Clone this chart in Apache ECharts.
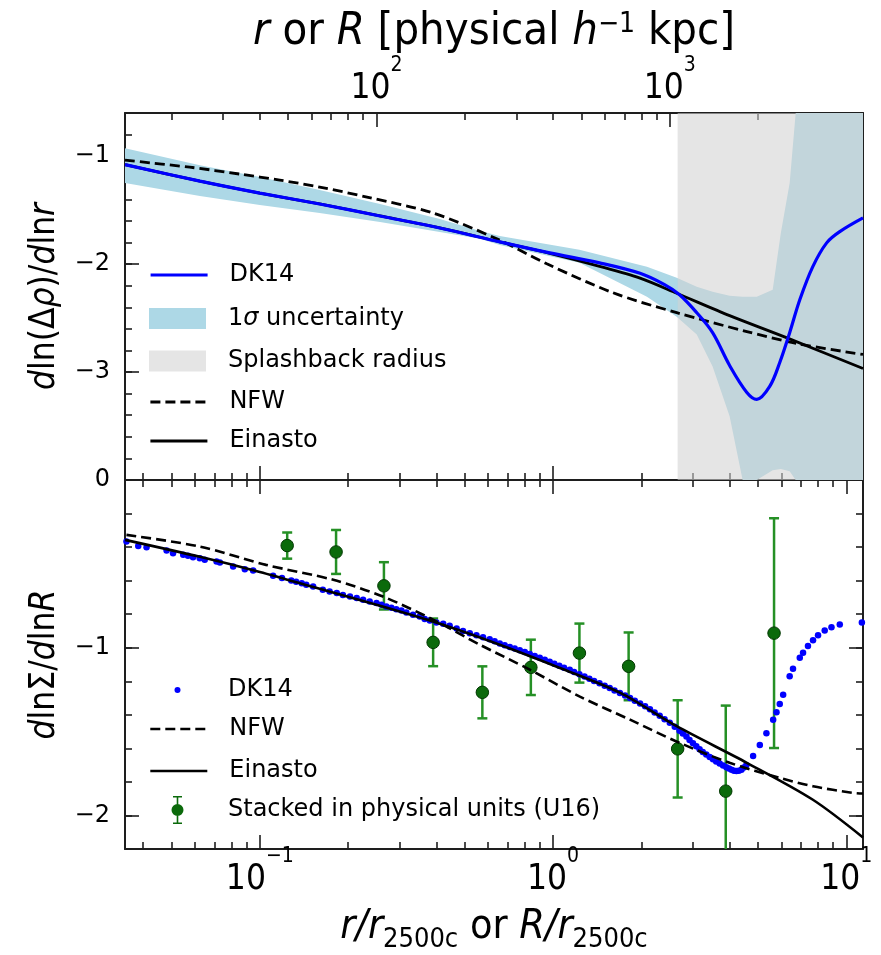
<!DOCTYPE html>
<html>
<head>
<meta charset="utf-8">
<title>Logarithmic slope profiles</title>
<script src="https://cdn.jsdelivr.net/npm/echarts@6.0.0/dist/echarts.min.js"></script>
<style>
  html, body { margin: 0; padding: 0; background: #fff; }
  #chart { width: 881px; height: 955px; }
</style>
</head>
<body>
<div id="chart"></div>
<script>
// axis ranges (x is r/r2500c, top axis is the same radius in h^-1 kpc)
const xMin = 0.0347, xMax = 11.4;
const r2500c = 400;
const topYMin = -4, topYMax = -0.6;
const botYMin = -2.2, botYMax = 0;

// ticks
const xMajor = [0.1, 1, 10];
const xMinor = [0.04, 0.05, 0.06, 0.07, 0.08, 0.09, 0.2, 0.3, 0.4, 0.5, 0.6, 0.7, 0.8, 0.9, 2, 3, 4, 5, 6, 7, 8, 9];
const kpcMajor = [100, 1000];
const kpcMinor = [20, 30, 40, 50, 60, 70, 80, 90, 200, 300, 400, 500, 600, 700, 800, 900, 2000, 3000, 4000];
const topYTicks = [-3, -2, -1];
const botYTicks = [-2, -1];
const botYLabels = [-2, -1, 0];

// top panel: d ln(Δρ) / d ln r
const dk14TopX = [0.0347, 0.0625, 0.1, 0.160, 0.257, 0.411, 0.658, 0.974, 1.44, 1.98, 2.40, 2.70, 3.09, 3.50, 4.00, 4.58, 4.95, 5.48, 5.93, 6.41, 6.94, 7.68, 8.57, 9.50, 11.4];
const dk14TopY = [-1.078, -1.231, -1.342, -1.443, -1.554, -1.665, -1.794, -1.896, -1.988, -2.085, -2.190, -2.284, -2.450, -2.635, -2.939, -3.189, -3.253, -3.133, -2.911, -2.635, -2.330, -2.025, -1.803, -1.699, -1.572];
const einTopX = [0.0347, 0.0625, 0.1, 0.160, 0.257, 0.411, 0.658, 0.974, 1.44, 1.98, 2.64, 4.00, 6.25, 11.4];
const einTopY = [-1.078, -1.231, -1.342, -1.443, -1.554, -1.665, -1.794, -1.900, -2.020, -2.130, -2.270, -2.477, -2.681, -2.967];
const nfwTopX = [0.0347, 0.0577, 0.0855, 0.117, 0.160, 0.232, 0.389, 0.643, 0.952, 1.60, 2.64, 4.58, 6.78, 11.4];
const nfwTopY = [-1.037, -1.102, -1.166, -1.222, -1.286, -1.379, -1.526, -1.766, -1.997, -2.265, -2.450, -2.625, -2.736, -2.837];
const bandX = [0.0347, 0.0625, 0.1, 0.160, 0.257, 0.411, 0.563, 0.658, 1.23, 2.09, 2.64, 3.09, 3.50, 4.00, 4.43, 4.95, 5.61, 5.98, 6.41, 6.72, 6.94, 11.4];
const bandHi = [-0.926, -1.083, -1.194, -1.314, -1.443, -1.582, -1.693, -1.739, -1.868, -2.025, -2.127, -2.210, -2.256, -2.293, -2.302, -2.302, -2.237, -1.711, -1.249, -0.6, -0.6, -0.6];
const bandLo = [-1.249, -1.369, -1.452, -1.526, -1.609, -1.702, -1.766, -1.822, -1.988, -2.302, -2.487, -2.653, -2.948, -3.410, -4.0, -4.0, -3.909, -3.899, -3.918, -4.0, -4.0, -4.0];
const splashRange = [2.66, 20];

// bottom panel: d ln Σ / d ln R
const dotX = [0.0351, 0.0385, 0.0411, 0.0481, 0.0506, 0.0548, 0.0569, 0.0592, 0.0624, 0.0649, 0.0712, 0.0731, 0.0811, 0.0889, 0.0949, 0.111, 0.119, 0.128, 0.133, 0.139, 0.144, 0.152, 0.164, 0.173, 0.183, 0.192, 0.203, 0.214, 0.225, 0.237, 0.250, 0.260, 0.270, 0.281, 0.292, 0.304, 0.316, 0.333, 0.351, 0.365, 0.380, 0.400, 0.422, 0.444, 0.469, 0.493, 0.520, 0.548, 0.577,
  0.608, 0.632, 0.658, 0.684, 0.712, 0.740, 0.770, 0.801, 0.833, 0.866, 0.901, 0.937, 0.974, 1.01, 1.05, 1.09, 1.14, 1.18, 1.23, 1.28, 1.33, 1.38, 1.44, 1.50, 1.56, 1.62, 1.69, 1.76, 1.83, 1.90, 1.98, 2.06, 2.14, 2.22, 2.31, 2.40, 2.50, 2.60, 2.70, 2.77, 2.85, 2.92, 3.00, 3.08, 3.16, 3.24, 3.33, 3.42, 3.51, 3.60, 3.70, 3.80, 3.90, 3.98, 4.06, 4.14, 4.22, 4.30, 4.39, 4.47, 4.56,
  4.81, 5.07, 5.34, 5.63, 5.78, 5.93, 6.09, 6.41, 6.58, 6.94, 7.12, 7.40, 7.70, 8.01, 8.44, 8.90, 9.50, 11.3];
const dotY = [-0.367, -0.393, -0.401, -0.421, -0.436, -0.446, -0.452, -0.460, -0.466, -0.476, -0.486, -0.492, -0.516, -0.532, -0.540, -0.571, -0.585, -0.599, -0.607, -0.615, -0.625, -0.635, -0.655, -0.665, -0.674, -0.685, -0.695, -0.704, -0.714, -0.724, -0.734, -0.744, -0.754, -0.762, -0.770, -0.778, -0.790, -0.804, -0.814, -0.829, -0.838, -0.849, -0.857, -0.869, -0.885, -0.900, -0.913, -0.925, -0.937,
  -0.950, -0.962, -0.975, -0.985, -0.995, -1.005, -1.015, -1.026, -1.038, -1.049, -1.060, -1.071, -1.083, -1.095, -1.108, -1.120, -1.132, -1.145, -1.158, -1.171, -1.185, -1.198, -1.212, -1.226, -1.240, -1.255, -1.270, -1.285, -1.300, -1.316, -1.332, -1.349, -1.367, -1.386, -1.405, -1.426, -1.448, -1.471, -1.495, -1.512, -1.530, -1.550, -1.570, -1.588, -1.605, -1.621, -1.637, -1.651, -1.665, -1.678, -1.690, -1.702, -1.712, -1.720, -1.728, -1.733, -1.735, -1.733, -1.727, -1.714, -1.700,
  -1.645, -1.580, -1.510, -1.430, -1.385, -1.335, -1.280, -1.170, -1.125, -1.060, -1.030, -0.990, -0.955, -0.925, -0.897, -0.878, -0.862, -0.849];
const einBotX = [0.0347, 0.0625, 0.1, 0.160, 0.257, 0.411, 0.658, 1.05, 1.69, 2.64, 4.58, 7.67, 11.4];
const einBotY = [-0.357, -0.458, -0.548, -0.649, -0.750, -0.857, -0.982, -1.119, -1.268, -1.468, -1.686, -1.905, -2.131];
const nfwBotX = [0.0351, 0.0624, 0.105, 0.178, 0.263, 0.390, 0.563, 0.833, 1.23, 1.83, 2.70, 4.00, 5.93, 7.70, 10.5, 11.4];
const nfwBotY = [-0.327, -0.397, -0.506, -0.595, -0.695, -0.833, -0.982, -1.131, -1.290, -1.429, -1.567, -1.686, -1.776, -1.826, -1.865, -1.869];
const u16X = [0.124, 0.182, 0.265, 0.390, 0.574, 0.840, 1.23, 1.81, 2.66, 3.88, 5.67];
const u16Y = [-0.391, -0.429, -0.631, -0.968, -1.266, -1.117, -1.032, -1.111, -1.603, -1.855, -0.913];
const u16Err = [0.078, 0.131, 0.141, 0.142, 0.155, 0.165, 0.176, 0.202, 0.290, 0.510, 0.685];

const frame = '#1e1e1e';
const bandColor = '#add8e6';
const splashColor = 'rgba(210,210,210,0.58)';
const blue = '#0000ff';
const green = '#0b6a0b';
const barGreen = '#259025';
const condensed = "'DejaVu Sans Condensed', 'Liberation Sans Narrow', 'DejaVu Sans', sans-serif";
const sans = "'DejaVu Sans', sans-serif";

const pairs = (xs, ys) => xs.map((x, i) => [x, ys[i]]);
const minus = v => (v < 0 ? '\u2212' : '') + Math.abs(v);

const powRich = {
  b: { fontFamily: condensed, fontSize: 35, lineHeight: 36, padding: [16, 0, 0, 0], color: '#000' },
  e: { fontFamily: condensed, fontSize: 21, lineHeight: 21, padding: [0, 0, 31, 0], color: '#000' }
};
const powLabel = v => '{b|10}{e|' + minus(Math.round(Math.log10(v))) + '}';

const spine = { show: true, onZero: false, lineStyle: { color: frame, width: 2 } };

function logAxis(grid, pos, min, max, ticks, len, extra) {
  return Object.assign({
    type: 'log', logBase: 10, gridIndex: grid, position: pos, min: min, max: max,
    axisLine: { show: false, onZero: false },
    axisTick: { show: true, inside: true, length: len, customValues: ticks, lineStyle: { color: frame, width: 1.6 } },
    axisLabel: { show: false },
    splitLine: { show: false },
    nameMoveOverlap: false
  }, extra);
}

function valAxis(grid, pos, min, max, extra) {
  return Object.assign({
    type: 'value', gridIndex: grid, position: pos, min: min, max: max,
    axisLine: { show: false, onZero: false },
    axisTick: { show: true, inside: true, length: 7, lineStyle: { color: frame, width: 1.6 } },
    axisLabel: { show: false },
    splitLine: { show: false },
    nameMoveOverlap: false
  }, extra);
}

function majorY(grid, pos, min, max, ticks, labels, extra) {
  const ax = valAxis(grid, pos, min, max, extra);
  ax.axisLine = spine;
  ax.axisTick = { show: true, inside: true, length: 14, customValues: ticks, lineStyle: { color: frame, width: 1.6 } };
  if (labels) {
    ax.axisLabel = { show: true, customValues: labels, formatter: minus, margin: 15,
      fontFamily: sans, fontSize: 24, color: '#000' };
  }
  return ax;
}

const yNameRich = {
  i: { fontFamily: condensed, fontStyle: 'italic', fontSize: 35, lineHeight: 40, color: '#000' },
  n: { fontFamily: condensed, fontSize: 35, lineHeight: 40, color: '#000' }
};

const xAxes = [
  // top panel, bottom edge
  logAxis(0, 'bottom', xMin, xMax, xMajor, 14, { axisLine: spine }),
  logAxis(0, 'bottom', xMin, xMax, xMinor, 7),
  // top panel, top edge in kpc
  logAxis(0, 'top', xMin * r2500c, xMax * r2500c, kpcMajor, 14, {
    axisLine: spine,
    axisLabel: { show: true, customValues: kpcMajor, formatter: powLabel, margin: 14, rich: powRich },
    name: '{i|r}{n| or }{i|R}{n| [physical }{i|h}{s|\u22121}{n| kpc]}',
    nameLocation: 'middle', nameGap: 57,
    nameTextStyle: { rich: {
      i: { fontFamily: condensed, fontStyle: 'italic', fontSize: 45, lineHeight: 48, color: '#000' },
      n: { fontFamily: condensed, fontSize: 45, lineHeight: 48, color: '#000' },
      s: { fontFamily: condensed, fontSize: 28, lineHeight: 28, padding: [3, 0, 17, 0], color: '#000' }
    } }
  }),
  logAxis(0, 'top', xMin * r2500c, xMax * r2500c, kpcMinor, 7),
  // bottom panel, bottom edge
  logAxis(1, 'bottom', xMin, xMax, xMajor, 14, {
    axisLine: spine,
    axisLabel: { show: true, customValues: xMajor, formatter: powLabel, margin: 5, rich: powRich },
    name: '{i|r/r}{s|2500c}{n| or }{i|R/r}{s|2500c}',
    nameLocation: 'middle', nameGap: 57,
    nameTextStyle: { rich: {
      i: { fontFamily: condensed, fontStyle: 'italic', fontSize: 41, lineHeight: 42, color: '#000' },
      n: { fontFamily: condensed, fontSize: 41, lineHeight: 42, color: '#000' },
      s: { fontFamily: condensed, fontSize: 27, lineHeight: 27, padding: [25, 0, 0, 0], color: '#000' }
    } }
  }),
  logAxis(1, 'bottom', xMin, xMax, xMinor, 7),
  // bottom panel, top edge
  logAxis(1, 'top', xMin, xMax, xMajor, 14, { axisLine: spine }),
  logAxis(1, 'top', xMin, xMax, xMinor, 7)
];

const yAxes = [
  majorY(0, 'left', topYMin, topYMax, topYTicks, topYTicks, {
    name: '{i|d}{n|ln(\u0394}{i|\u03c1}{n|)/}{i|d}{n|ln}{i|r}',
    nameLocation: 'middle', nameRotate: 90, nameGap: 60,
    nameTextStyle: { rich: yNameRich }
  }),
  valAxis(0, 'left', topYMin, topYMax, { interval: 0.2 }),
  majorY(0, 'right', topYMin, topYMax, topYTicks, null),
  valAxis(0, 'right', topYMin, topYMax, { interval: 0.2 }),
  majorY(1, 'left', botYMin, botYMax, botYTicks, botYLabels, {
    name: '{i|d}{n|ln\u03a3/}{i|d}{n|ln}{i|R}',
    nameLocation: 'middle', nameRotate: 90, nameGap: 60,
    nameTextStyle: { rich: yNameRich }
  }),
  valAxis(1, 'left', botYMin, botYMax, { interval: 0.2 }),
  majorY(1, 'right', botYMin, botYMax, botYTicks, null),
  valAxis(1, 'right', botYMin, botYMax, { interval: 0.2 })
];

// legend rows; `left` is where the icon's own box starts, so narrow icons are shifted to stay centred on the handle
const legendText = { fontFamily: sans, fontSize: 24, lineHeight: 24, color: '#000', padding: [0, 0, 0, 17] };
function legendRow(name, cy, h, iconW, item, extra) {
  return Object.assign({
    show: true, orient: 'vertical', left: 149 + (57 - iconW) / 2, top: cy - Math.max(h, 24) / 2,
    padding: 0, itemGap: 0, itemWidth: 57, itemHeight: h, selectedMode: false,
    textStyle: legendText,
    data: [Object.assign({ name: name }, item)]
  }, extra);
}
const hideSymbol = { itemStyle: { opacity: 0 } };
const errIcon = 'path://M1.5,0H10.5V1.6H1.5Z M5.2,0H6.8V28H5.2Z M1.5,26.4H10.5V28H1.5Z M12,14A6,6,0,1,1,0,14A6,6,0,1,1,12,14Z';

const legends = [
  legendRow('DK14', 275, 14, 57, hideSymbol, { lineStyle: { width: 3.2 } }),
  legendRow('1\u03c3 uncertainty', 318.5, 21, 57, { icon: 'rect', itemStyle: { color: bandColor } }, {
    formatter: () => '1{s|\u03c3} uncertainty',
    textStyle: Object.assign({}, legendText, { rich: { s: { fontFamily: sans, fontStyle: 'italic', fontSize: 24, color: '#000' } } })
  }),
  legendRow('Splashback radius', 361, 21, 57, { icon: 'rect', itemStyle: { color: splashColor } }),
  legendRow('NFW', 402, 14, 57, hideSymbol, { lineStyle: { width: 2.8 } }),
  legendRow('Einasto', 441, 14, 57, hideSymbol, { lineStyle: { width: 2.8 } }),
  legendRow('DK14', 690, 6, 6, { icon: 'circle', itemStyle: { color: blue, borderWidth: 0, opacity: 1 } }),
  legendRow('NFW', 729, 14, 57, hideSymbol, { lineStyle: { width: 2.6 } }),
  legendRow('Einasto', 771, 14, 57, hideSymbol, { lineStyle: { width: 2.6 } }),
  legendRow('Stacked in physical units (U16)', 810, 28, 12, { icon: errIcon, itemStyle: { color: green, borderWidth: 0, opacity: 1 } })
];

const series = [
  {
    name: '1\u03c3 uncertainty', type: 'custom', xAxisIndex: 0, yAxisIndex: 0, clip: true, silent: true,
    itemStyle: { color: bandColor },
    data: [[bandX[0], bandHi[0]]],
    renderItem: function (params, api) {
      const upper = bandX.map((x, i) => api.coord([x, bandHi[i]]));
      const lower = bandX.map((x, i) => api.coord([x, bandLo[i]])).reverse();
      return { type: 'polygon', shape: { points: upper.concat(lower) }, style: { fill: bandColor } };
    }
  },
  {
    name: 'Splashback radius', type: 'custom', xAxisIndex: 0, yAxisIndex: 0, clip: true, silent: true,
    itemStyle: { color: splashColor },
    data: [[splashRange[0], topYMax]],
    renderItem: function (params, api) {
      const p0 = api.coord([splashRange[0], topYMax]);
      const p1 = api.coord([splashRange[1], topYMin]);
      return { type: 'rect', shape: { x: p0[0], y: p0[1], width: p1[0] - p0[0], height: p1[1] - p0[1] },
        style: { fill: splashColor } };
    }
  },
  {
    name: 'Einasto', type: 'line', xAxisIndex: 0, yAxisIndex: 0, symbol: 'none', smooth: 0.3,
    data: pairs(einTopX, einTopY), lineStyle: { color: '#000', width: 2.8 }, itemStyle: { color: '#000' }
  },
  {
    name: 'NFW', type: 'line', xAxisIndex: 0, yAxisIndex: 0, symbol: 'none', smooth: 0.3,
    data: pairs(nfwTopX, nfwTopY), lineStyle: { color: '#000', width: 2.8, type: [10, 5] }, itemStyle: { color: '#000' }
  },
  {
    name: 'DK14', type: 'line', xAxisIndex: 0, yAxisIndex: 0, symbol: 'none', smooth: 0.35,
    data: pairs(dk14TopX, dk14TopY), lineStyle: { color: blue, width: 3.2 }, itemStyle: { color: blue }
  },
  {
    name: 'Einasto', type: 'line', xAxisIndex: 4, yAxisIndex: 4, symbol: 'none', smooth: 0.3,
    data: pairs(einBotX, einBotY), lineStyle: { color: '#000', width: 2.6 }, itemStyle: { color: '#000' }
  },
  {
    name: 'NFW', type: 'line', xAxisIndex: 4, yAxisIndex: 4, symbol: 'none', smooth: 0.3,
    data: pairs(nfwBotX, nfwBotY), lineStyle: { color: '#000', width: 2.6, type: [10, 5] }, itemStyle: { color: '#000' }
  },
  {
    name: 'DK14', type: 'scatter', xAxisIndex: 4, yAxisIndex: 4, symbolSize: 6.5,
    data: pairs(dotX, dotY), itemStyle: { color: blue, opacity: 1 }
  },
  {
    type: 'custom', xAxisIndex: 4, yAxisIndex: 4, clip: true, silent: true,
    data: u16X.map((x, i) => [x, u16Y[i], u16Err[i]]),
    encode: { x: 0, y: 1 },
    renderItem: function (params, api) {
      const x = api.value(0), y = api.value(1), e = api.value(2);
      const hi = api.coord([x, y + e]);
      const lo = api.coord([x, y - e]);
      const st = { stroke: barGreen, lineWidth: 2.5 };
      return { type: 'group', children: [
        { type: 'line', shape: { x1: hi[0], y1: hi[1], x2: lo[0], y2: lo[1] }, style: st },
        { type: 'line', shape: { x1: hi[0] - 5, y1: hi[1], x2: hi[0] + 5, y2: hi[1] }, style: st },
        { type: 'line', shape: { x1: lo[0] - 5, y1: lo[1], x2: lo[0] + 5, y2: lo[1] }, style: st }
      ] };
    }
  },
  {
    name: 'Stacked in physical units (U16)', type: 'scatter', xAxisIndex: 4, yAxisIndex: 4, symbolSize: 12.5,
    data: pairs(u16X, u16Y), itemStyle: { color: green, borderColor: '#023802', borderWidth: 1, opacity: 1 }
  }
];

const chart = echarts.init(document.getElementById('chart'));
chart.setOption({
  animation: false,
  backgroundColor: '#fff',
  grid: [
    { left: 125, top: 113, width: 738, height: 367, containLabel: false, outerBoundsMode: 'none' },
    { left: 125, top: 480, width: 738, height: 369, containLabel: false, outerBoundsMode: 'none' }
  ],
  legend: legends,
  xAxis: xAxes,
  yAxis: yAxes,
  series: series
});
</script>
</body>
</html>
